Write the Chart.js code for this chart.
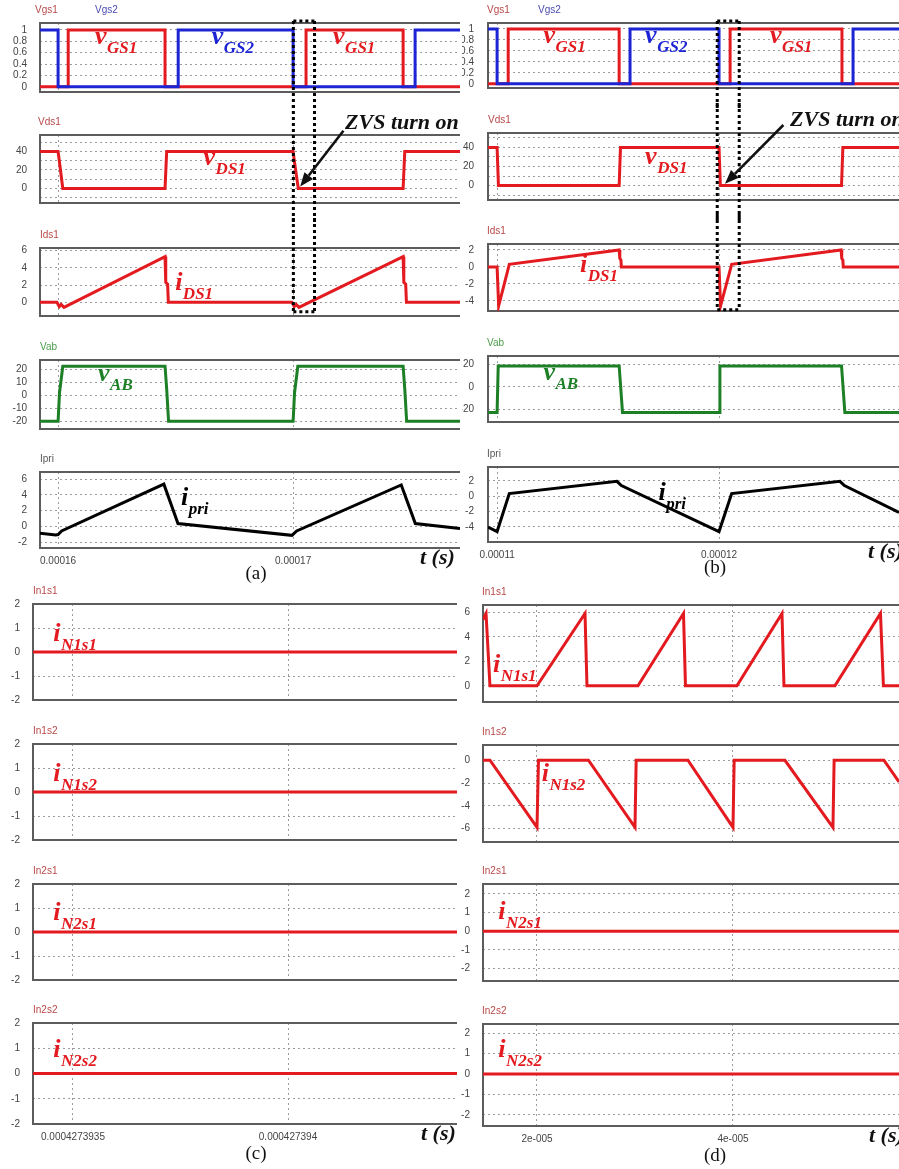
<!DOCTYPE html>
<html><head><meta charset="utf-8">
<script src="https://cdn.jsdelivr.net/npm/chart.js@4.4.1/dist/chart.umd.min.js"></script>
<style>
html,body{margin:0;padding:0;background:#fff;}
#wrap{position:relative;width:899px;height:1169px;overflow:hidden;background:#fff;}
#wrap canvas{position:absolute;}
</style></head><body><div id="wrap"></div>
<script>
// ---------- x tick values / labels ----------
const xTicksA = [160, 170];                 // microseconds
const xLabelsA = ['0.00016', '0.00017'];
const xTicksB = [110, 120];                 // microseconds
const xLabelsB = ['0.00011', '0.00012'];
const xTicksC = [427393.5, 427394.0];       // nanoseconds
const xLabelsC = ['0.0004273935', '0.000427394'];
const xTicksD = [20, 40];                   // microseconds
const xLabelsD = ['2e-005', '4e-005'];

// ---------- y tick values ----------
const yTicksGate = [0, 0.2, 0.4, 0.6, 0.8, 1];
const yTicksVds = [-10, 0, 10, 20, 30, 40, 50];
const yShownVds = [0, 20, 40];
const yTicksIdsA = [0, 2, 4, 6];
const yTicksVabA = [-20, -10, 0, 10, 20];
const yTicksIpriA = [-2, 0, 2, 4, 6];
const yTicksIdsB = [-4, -2, 0, 2];
const yTicksVabB = [-20, 0, 20];
const yTicksIpriB = [-4, -2, 0, 2];
const yTicksSec = [-2, -1, 0, 1, 2];
const yTicksN1s1D = [0, 2, 4, 6];
const yTicksN1s2D = [-6, -4, -2, 0];

// ---------- waveforms (a) : [t (us), value] ----------
const aVgs1 = [[159.23,0],[160.43,0],[160.43,1],[164.55,1],[164.55,0],[170.55,0],[170.55,1],[174.68,1],[174.68,0],[177.1,0]];
const aVgs2 = [[159.23,1],[160.0,1],[160.0,0],[165.11,0],[165.11,1],[170.0,1],[170.0,0],[175.19,0],[175.19,1],[177.1,1]];
const aVds1 = [[159.23,40],[160.0,40],[160.06,28],[160.2,0],[164.55,0],[164.62,40],[170.0,40],[170.06,28],[170.22,0],[174.68,0],[174.75,40],[177.1,40]];
const aIds1 = [[159.23,0],[159.95,0],[160.05,-0.5],[160.13,-0.25],[160.25,-0.6],[164.55,5.3],[164.58,2.3],[164.66,2.1],[164.69,0],[169.95,0],[170.05,-0.5],[170.13,-0.25],[170.25,-0.6],[174.68,5.3],[174.71,2.3],[174.79,2.1],[174.82,0],[177.1,0]];
const aVab = [[159.23,-20],[160.0,-20],[160.06,2],[160.2,22.5],[164.55,22.5],[164.62,5],[164.7,-20],[170.0,-20],[170.06,2],[170.2,22.5],[174.68,22.5],[174.75,5],[174.83,-20],[177.1,-20]];
const aIpri = [[159.23,-0.9],[159.9,-1.1],[160.0,-1.05],[160.15,-0.6],[164.5,5.35],[165.1,0.35],[169.95,-1.15],[170.15,-0.6],[174.6,5.25],[175.2,0.35],[177.1,-0.3]];

// ---------- waveforms (b) ----------
const bVgs1 = [[109.59,0],[110.5,0],[110.5,1],[115.5,1],[115.5,0],[120.5,0],[120.5,1],[125.54,1],[125.54,0],[128.11,0]];
const bVgs2 = [[109.59,1],[110.0,1],[110.0,0],[115.99,0],[115.99,1],[120.0,1],[120.0,0],[126.04,0],[126.04,1],[128.11,1]];
const bVds1 = [[109.59,40],[110.0,40],[110.06,0],[115.5,0],[115.56,40],[120.0,40],[120.06,0],[125.52,0],[125.58,40],[128.11,40]];
const bIds1 = [[109.59,0],[110.0,0],[110.07,-4.6],[110.55,0.3],[115.5,2.0],[115.53,1.0],[115.58,0.8],[115.6,0],[120.0,0],[120.07,-4.6],[120.57,0.3],[125.5,2.0],[125.53,1.0],[125.58,0.8],[125.6,0],[128.11,0]];
const bVab = [[109.59,-22.8],[110.0,-22.8],[110.05,18.7],[115.5,18.7],[115.55,5],[115.65,-22.8],[120.0,-22.8],[120.04,18.7],[125.52,18.7],[125.57,5],[125.67,-22.8],[128.11,-22.8]];
const bIpri = [[109.59,-4.0],[110.0,-4.6],[110.55,0.35],[115.4,1.95],[115.6,1.4],[120.0,-4.6],[120.57,0.35],[125.45,1.95],[125.65,1.4],[128.11,-2.1]];

// ---------- waveforms (c) : [t (ns), value] ----------
const cN1s1 = [[427393.407,0],[427394.393,0]];
const cN1s2 = [[427393.407,0],[427394.393,0]];
const cN2s1 = [[427393.407,0],[427394.393,0]];
const cN2s2 = [[427393.407,0],[427394.393,0]];

// ---------- waveforms (d) : [t (us), value] ----------
const dN1s1 = [[14.49,5.4],[14.8,5.9],[15.2,0],[20.0,0],[24.9,5.9],[25.1,0],[30.3,0],[34.95,5.9],[35.15,0],[40.4,0],[45.0,5.9],[45.2,0],[50.4,0],[55.05,5.9],[55.35,0],[56.94,0]];
const dN1s2 = [[14.49,0],[15.2,0],[20.0,-5.9],[20.15,0],[25.25,0],[30.0,-5.9],[30.12,0],[35.4,0],[40.0,-5.9],[40.12,0],[45.3,0],[50.2,-5.9],[50.32,0],[55.4,0],[56.94,-1.9]];
const dN2s1 = [[14.49,0],[56.94,0]];
const dN2s2 = [[14.49,0],[56.94,0]];

// ---------- styles ----------
const RED = '#e31a1f', BLUE = '#1c24d4', GREEN = '#1d7f26', BLACK = '#000000';
const N_RED = '#b84848', N_BLUE = '#4a4ab0', N_GREEN = '#4a9a4a', N_GRAY = '#555555';
const GRID = '#9c9c9c', TICK = '#444444', FRAME = '#5c5c5c';
const PAD_TOP = 30;
Chart.defaults.font.family = '"Liberation Sans", Arial, sans-serif';

function L(t, v, main, sub, color) { return {t, v, main, sub, color}; }

const A = {left:0, w:460, axisW:40, tickPad:13, xMin:159.23, xMax:177.1, xTicks:xTicksA};
const B = {left:462, w:437, axisW:26, tickPad:14, xMin:109.59, xMax:128.11, xTicks:xTicksB};
const C = {left:0, w:457, axisW:33, tickPad:13, xMin:427393.407, xMax:427394.393, xTicks:xTicksC};
const D = {left:460, w:439, axisW:23, tickPad:13, xMin:14.49, xMax:56.94, xTicks:xTicksD};

const charts = [
  // ----- (a) -----
  Object.assign({}, A, {boxTop:23, boxH:80, yMin:-0.091, yMax:1.121, yTicks:yTicksGate,
    series:[{pts:aVgs2,color:BLUE},{pts:aVgs1,color:RED}],
    names:[{text:'Vgs1',dx:-5,color:N_RED},{text:'Vgs2',dx:55,color:N_BLUE}],
    labels:[L(161.57,0.76,'v','GS1',RED),L(166.54,0.76,'v','GS2',BLUE),L(171.7,0.76,'v','GS1',RED)],
    zvs:{t1:170.01,t2:170.91,part:'top'}}),
  Object.assign({}, A, {boxTop:135, boxH:79, yMin:-15.8, yMax:57.7, yTicks:yTicksVds, yShown:yShownVds,
    series:[{pts:aVds1,color:RED}], names:[{text:'Vds1',dx:-2,color:N_RED}],
    labels:[L(166.19,25.1,'v','DS1',RED)],
    zvs:{t1:170.01,t2:170.91,part:'mid'},
    note:{t:172.21,v:63.9,text:'ZVS turn on'}, arrow:{t0:172.14,v0:62.3,t1:170.3,v1:1.9}}),
  Object.assign({}, A, {boxTop:248, boxH:79, yMin:-1.6, yMax:6.3, yTicks:yTicksIdsA,
    series:[{pts:aIds1,color:RED}], names:[{text:'Ids1',dx:0,color:N_RED}],
    labels:[L(164.98,1.4,'i','DS1',RED)],
    zvs:{t1:170.01,t2:170.91,part:'bottom',vBottom:-1.1}}),
  Object.assign({}, A, {boxTop:360, boxH:80, yMin:-26, yMax:27.3, yTicks:yTicksVabA,
    series:[{pts:aVab,color:GREEN}], names:[{text:'Vab',dx:0,color:N_GREEN}],
    labels:[L(161.7,10.7,'v','AB',GREEN)]}),
  Object.assign({}, A, {boxTop:472, boxH:76, yMin:-2.76, yMax:6.89, yTicks:yTicksIpriA,
    series:[{pts:aIpri,color:BLACK}], names:[{text:'Ipri',dx:0,color:N_GRAY}],
    labels:[L(165.23,2.7,'i','pri',BLACK)],
    xLabels:xLabelsA, caption:{text:'(a)',dx:216}, tsDx:-40}),
  // ----- (b) -----
  Object.assign({}, B, {boxTop:23, boxH:77, yMin:-0.077, yMax:1.108, yTicks:yTicksGate,
    series:[{pts:bVgs2,color:BLUE},{pts:bVgs1,color:RED}],
    names:[{text:'Vgs1',dx:-1,color:N_RED},{text:'Vgs2',dx:50,color:N_BLUE}],
    labels:[L(112.09,0.74,'v','GS1',RED),L(116.67,0.74,'v','GS2',BLUE),L(122.3,0.74,'v','GS1',RED)],
    zvs:{t1:119.92,t2:120.91,part:'top'}}),
  Object.assign({}, B, {boxTop:133, boxH:79, yMin:-15.1, yMax:55.1, yTicks:yTicksVds, yShown:yShownVds,
    series:[{pts:bVds1,color:RED}], names:[{text:'Vds1',dx:0,color:N_RED}],
    labels:[L(116.67,22.2,'v','DS1',RED)],
    zvs:{t1:119.92,t2:120.91,part:'mid'},
    note:{t:123.2,v:62.2,text:'ZVS turn on'}, arrow:{t0:122.9,v0:63.5,t1:120.27,v1:1.8}}),
  Object.assign({}, B, {boxTop:244, boxH:79, yMin:-5.2, yMax:2.7, yTicks:yTicksIdsB,
    series:[{pts:bIds1,color:RED}], names:[{text:'Ids1',dx:-1,color:N_RED}],
    labels:[L(113.74,-0.6,'i','DS1',RED)],
    zvs:{t1:119.92,t2:120.91,part:'bottom',vBottom:-5.05}}),
  Object.assign({}, B, {boxTop:356, boxH:78, yMin:-31.3, yMax:27.5, yTicks:yTicksVabB,
    series:[{pts:bVab,color:GREEN}], names:[{text:'Vab',dx:-1,color:N_GREEN}],
    labels:[L(112.09,5.7,'v','AB',GREEN)]}),
  Object.assign({}, B, {boxTop:467, boxH:75, yMin:-5.96, yMax:3.82, yTicks:yTicksIpriB,
    series:[{pts:bIpri,color:BLACK}], names:[{text:'Ipri',dx:-1,color:N_GRAY}],
    labels:[L(117.27,-0.5,'i','pri',BLACK)],
    xLabels:xLabelsB, caption:{text:'(b)',dx:227}, tsDx:-31}),
  // ----- (c) -----
  Object.assign({}, C, {boxTop:604, boxH:107, yMin:-2, yMax:2, yTicks:yTicksSec,
    series:[{pts:cN1s1,color:RED}], names:[{text:'In1s1',dx:0,color:N_RED}],
    labels:[L(427393.4542,0.45,'i','N1s1',RED)]}),
  Object.assign({}, C, {boxTop:744, boxH:107, yMin:-2, yMax:2, yTicks:yTicksSec,
    series:[{pts:cN1s2,color:RED}], names:[{text:'In1s2',dx:0,color:N_RED}],
    labels:[L(427393.4542,0.45,'i','N1s2',RED)]}),
  Object.assign({}, C, {boxTop:884, boxH:107, yMin:-2, yMax:2, yTicks:yTicksSec,
    series:[{pts:cN2s1,color:RED}], names:[{text:'In2s1',dx:0,color:N_RED}],
    labels:[L(427393.4542,0.48,'i','N2s1',RED)]}),
  Object.assign({}, C, {boxTop:1023, boxH:101, yMin:-2, yMax:2, yTicks:yTicksSec,
    series:[{pts:cN2s2,color:RED}], names:[{text:'In2s2',dx:0,color:N_RED}],
    labels:[L(427393.4542,0.65,'i','N2s2',RED)],
    xLabels:xLabelsC, caption:{text:'(c)',dx:223}, tsDx:-36}),
  // ----- (d) -----
  Object.assign({}, D, {boxTop:605, boxH:108, yMin:-1.32, yMax:6.59, yTicks:yTicksN1s1D,
    series:[{pts:dN1s1,color:RED}], names:[{text:'In1s1',dx:-1,color:N_RED}],
    labels:[L(15.51,1.15,'i','N1s1',RED)]}),
  Object.assign({}, D, {boxTop:745, boxH:108, yMin:-7.18, yMax:1.34, yTicks:yTicksN1s2D,
    series:[{pts:dN1s2,color:RED}], names:[{text:'In1s2',dx:-1,color:N_RED}],
    labels:[L(20.48,-1.85,'i','N1s2',RED)]}),
  Object.assign({}, D, {boxTop:884, boxH:108, yMin:-2.67, yMax:2.53, yTicks:yTicksSec,
    series:[{pts:dN2s1,color:RED}], names:[{text:'In2s1',dx:-1,color:N_RED}],
    labels:[L(16.05,0.64,'i','N2s1',RED)]}),
  Object.assign({}, D, {boxTop:1024, boxH:102, yMin:-2.54, yMax:2.44, yTicks:yTicksSec,
    series:[{pts:dN2s2,color:RED}], names:[{text:'In2s2',dx:-1,color:N_RED}],
    labels:[L(16.05,0.84,'i','N2s2',RED)],
    xLabels:xLabelsD, caption:{text:'(d)',dx:232}, tsDx:-30})
];

function drawSubLabel(ctx, x, y, main, sub, color) {
  ctx.save();
  ctx.fillStyle = color; ctx.textAlign = 'left'; ctx.textBaseline = 'alphabetic';
  ctx.font = 'italic bold 26px "Liberation Serif", serif';
  ctx.fillText(main, x, y);
  const w = ctx.measureText(main).width;
  ctx.font = 'italic bold 17px "Liberation Serif", serif';
  ctx.fillText(sub, x + w + 0.5, y + 9);
  ctx.restore();
}

function deco(c) {
  return {
    id: 'deco',
    beforeDatasetsDraw(chart) {
      const ctx = chart.ctx, a = chart.chartArea;
      ctx.save();
      ctx.strokeStyle = FRAME; ctx.lineWidth = 2;
      ctx.beginPath();
      ctx.moveTo(a.right + 2, a.top); ctx.lineTo(a.left, a.top);
      ctx.lineTo(a.left, a.bottom); ctx.lineTo(a.right + 2, a.bottom);
      ctx.stroke();
      ctx.restore();
    },
    afterDraw(chart) {
      const ctx = chart.ctx, a = chart.chartArea, xs = chart.scales.x, ys = chart.scales.y;
      ctx.save();
      ctx.font = '10px "Liberation Sans", Arial, sans-serif';
      ctx.textAlign = 'left'; ctx.textBaseline = 'middle';
      c.names.forEach(n => { ctx.fillStyle = n.color; ctx.fillText(n.text, a.left + n.dx, a.top - 13); });
      ctx.restore();
      (c.labels || []).forEach(l => drawSubLabel(ctx, xs.getPixelForValue(l.t), ys.getPixelForValue(l.v), l.main, l.sub, l.color));
      if (c.zvs) {
        const z = c.zvs;
        const x1 = xs.getPixelForValue(z.t1), x2 = xs.getPixelForValue(z.t2);
        const yT = z.part === 'top' ? a.top - 2 : 0;
        const yB = z.part === 'bottom' ? ys.getPixelForValue(z.vBottom) : chart.height;
        ctx.save();
        ctx.strokeStyle = '#000'; ctx.lineWidth = 3; ctx.setLineDash([3, 3]);
        ctx.beginPath();
        ctx.moveTo(x1, yT); ctx.lineTo(x1, yB);
        ctx.moveTo(x2, yT); ctx.lineTo(x2, yB);
        if (z.part === 'top') { ctx.moveTo(x1, yT); ctx.lineTo(x2, yT); }
        if (z.part === 'bottom') { ctx.moveTo(x1, yB); ctx.lineTo(x2, yB); }
        ctx.stroke();
        ctx.restore();
      }
      if (c.note) {
        ctx.save();
        ctx.fillStyle = '#111'; ctx.textAlign = 'left'; ctx.textBaseline = 'alphabetic';
        ctx.font = 'italic bold 22px "Liberation Serif", serif';
        ctx.fillText(c.note.text, xs.getPixelForValue(c.note.t), ys.getPixelForValue(c.note.v));
        ctx.restore();
      }
      if (c.arrow) {
        const r = c.arrow;
        const x0 = xs.getPixelForValue(r.t0), y0 = ys.getPixelForValue(r.v0);
        const x1 = xs.getPixelForValue(r.t1), y1 = ys.getPixelForValue(r.v1);
        const ang = Math.atan2(y1 - y0, x1 - x0), hl = 14, hw = 5.5;
        const bx = x1 - hl * Math.cos(ang), by = y1 - hl * Math.sin(ang);
        ctx.save();
        ctx.strokeStyle = '#111'; ctx.fillStyle = '#111'; ctx.lineWidth = 2.6;
        ctx.beginPath(); ctx.moveTo(x0, y0); ctx.lineTo(bx, by); ctx.stroke();
        ctx.beginPath();
        ctx.moveTo(x1, y1);
        ctx.lineTo(bx + hw * Math.sin(ang), by - hw * Math.cos(ang));
        ctx.lineTo(bx - hw * Math.sin(ang), by + hw * Math.cos(ang));
        ctx.closePath(); ctx.fill();
        ctx.restore();
      }
      if (c.caption) {
        ctx.save();
        ctx.fillStyle = '#111'; ctx.textBaseline = 'alphabetic';
        ctx.font = 'italic bold 22px "Liberation Serif", serif';
        ctx.textAlign = 'left';
        ctx.fillText('t (s)', a.right + c.tsDx, a.bottom + 16);
        ctx.font = '19px "Liberation Serif", serif';
        ctx.textAlign = 'center';
        ctx.fillText(c.caption.text, a.left + c.caption.dx, a.bottom + (c.boxH > 90 ? 35 : 31));
        ctx.restore();
      }
    }
  };
}

const wrap = document.getElementById('wrap');
charts.forEach(c => {
  const bottomPad = c.xLabels ? 45 : 8;
  const h = PAD_TOP + c.boxH + bottomPad;
  const cv = document.createElement('canvas');
  cv.width = c.w; cv.height = h;
  cv.style.left = c.left + 'px'; cv.style.top = (c.boxTop - PAD_TOP) + 'px';
  cv.style.width = c.w + 'px'; cv.style.height = h + 'px';
  wrap.appendChild(cv);
  const shown = c.yShown || c.yTicks;
  new Chart(cv, {
    type: 'line',
    data: {
      datasets: c.series.map(s => ({
        data: s.pts.map(p => ({x: p[0], y: p[1]})),
        borderColor: s.color, backgroundColor: s.color, borderWidth: 3,
        pointRadius: 0, tension: 0, fill: false, borderJoinStyle: 'miter'
      }))
    },
    options: {
      responsive: false, animation: false, devicePixelRatio: 1,
      events: [],
      layout: {padding: {top: PAD_TOP, bottom: c.xLabels ? 25 : 8, left: 0, right: 0}},
      plugins: {legend: {display: false}, tooltip: {enabled: false}, title: {display: false}},
      scales: {
        x: {
          type: 'linear', bounds: 'data', min: c.xMin, max: c.xMax,
          afterBuildTicks: s => { s.ticks = c.xTicks.map(v => ({value: v})); },
          afterFit: s => { s.height = c.xLabels ? 20 : 0; },
          grid: {color: GRID, lineWidth: 1, drawTicks: false},
          border: {display: false, dash: [2, 3]},
          ticks: {
            display: !!c.xLabels, autoSkip: false, maxRotation: 0, padding: 7,
            color: TICK, font: {size: 10},
            callback: v => c.xLabels ? c.xLabels[c.xTicks.indexOf(v)] : ''
          }
        },
        y: {
          type: 'linear', bounds: 'data', min: c.yMin, max: c.yMax,
          afterBuildTicks: s => { s.ticks = c.yTicks.map(v => ({value: v})); },
          afterFit: s => { s.width = c.axisW; },
          grid: {color: GRID, lineWidth: 1, drawTicks: false},
          border: {display: false, dash: [2, 3]},
          ticks: {
            autoSkip: false, padding: c.tickPad, color: TICK, font: {size: 10},
            callback: v => shown.includes(v) ? String(v) : ''
          }
        }
      }
    },
    plugins: [deco(c)]
  });
});
</script>
</body></html>
